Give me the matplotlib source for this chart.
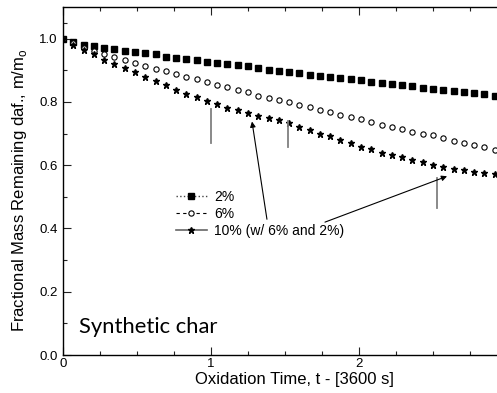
import matplotlib
matplotlib.use("Agg")
import matplotlib.pyplot as plt
from matplotlib.lines import Line2D
from matplotlib.ticker import FixedLocator
import numpy as np

# time in units of 3600 s, sampled every 250 s
time_h = np.arange(43) * 250 / 3600

mass_2 = [1.000, 0.990, 0.981, 0.977, 0.971, 0.967, 0.962, 0.959, 0.954, 0.950,
          0.943, 0.939, 0.936, 0.931, 0.927, 0.923, 0.920, 0.917, 0.913, 0.906,
          0.902, 0.898, 0.896, 0.892, 0.886, 0.881, 0.879, 0.876, 0.872, 0.868,
          0.864, 0.860, 0.858, 0.853, 0.849, 0.844, 0.842, 0.837, 0.834, 0.832,
          0.829, 0.826, 0.820]
mass_6 = [1.000, 0.985, 0.969, 0.962, 0.952, 0.943, 0.933, 0.923, 0.914, 0.905,
          0.897, 0.889, 0.878, 0.871, 0.863, 0.854, 0.846, 0.838, 0.830, 0.820,
          0.813, 0.807, 0.799, 0.790, 0.783, 0.775, 0.768, 0.759, 0.752, 0.745,
          0.736, 0.728, 0.720, 0.714, 0.704, 0.699, 0.694, 0.685, 0.677, 0.671,
          0.665, 0.657, 0.649]
mass_10 = [1.000, 0.980, 0.964, 0.950, 0.933, 0.920, 0.906, 0.894, 0.878, 0.865,
           0.853, 0.839, 0.826, 0.815, 0.802, 0.792, 0.781, 0.775, 0.766, 0.754,
           0.749, 0.743, 0.733, 0.722, 0.712, 0.699, 0.691, 0.680, 0.670, 0.659,
           0.650, 0.639, 0.631, 0.626, 0.617, 0.610, 0.601, 0.594, 0.589, 0.584,
           0.580, 0.576, 0.571]

labels = ["2%", "6%", "10% (w/ 6% and 2%)"]

# grey marker lines (x, y_low, y_high)
vlines_x = [1.00, 1.52, 2.53]
vlines_lo = [0.669, 0.656, 0.464]
vlines_hi = [0.779, 0.741, 0.560]

# arrows (tail -> head)
arrow_tail = [(1.378, 0.429), (1.77, 0.420)]
arrow_head = [(1.277, 0.738), (2.595, 0.565)]

plt.rcParams['font.family'] = ['Liberation Sans', 'DejaVu Sans']

fig = plt.figure(figsize=(4.97, 3.93), dpi=100)
ax = fig.add_axes([63/497, 38/393, 444/497, 348/393])

ax.plot(time_h, mass_2, linestyle='none', marker='s', ms=3.8, color='black')
ax.plot(time_h, mass_6, linestyle='none', marker='o', ms=3.8, mfc='white',
        mec='black', mew=0.8)
ax.plot(time_h, mass_10, linestyle='none', marker='*', ms=5.0, color='black')

for x, lo, hi in zip(vlines_x, vlines_lo, vlines_hi):
    ax.plot([x, x], [lo, hi], color='#808080', lw=1.3)

for t, h in zip(arrow_tail, arrow_head):
    ax.annotate('', xy=h, xytext=t,
                arrowprops=dict(arrowstyle='-|>', color='black', lw=0.8,
                                mutation_scale=8, shrinkA=0, shrinkB=0))

ax.set_xlim(0, 3.0)
ax.set_ylim(0, 1.1)
ax.set_xticks([0, 1, 2])
ax.xaxis.set_minor_locator(FixedLocator([0.25, 0.5, 0.75, 1.25, 1.5, 1.75,
                                         2.25, 2.5, 2.75]))
ax.set_yticks([0.0, 0.2, 0.4, 0.6, 0.8, 1.0])
ax.set_yticklabels(['0.0', '0.2', '0.4', '0.6', '0.8', '1.0'])
ax.yaxis.set_minor_locator(FixedLocator([0.1, 0.3, 0.5, 0.7, 0.9, 1.05]))
ax.tick_params(which='both', direction='in', top=True, right=False,
               labelsize=9.5, width=0.8, color='#222222')
ax.tick_params(which='major', length=5.5)
ax.tick_params(which='minor', length=3)
ax.tick_params(axis='x', pad=2)
ax.tick_params(axis='y', pad=4)
for s in ['left', 'bottom', 'top']:
    ax.spines[s].set_linewidth(1.0)
ax.spines['right'].set_visible(False)

ax.set_xlabel('Oxidation Time, t - [3600 s]', fontsize=12)
ax.xaxis.set_label_coords((294-63)/444, -0.05, transform=ax.transAxes)
ax.xaxis.label.set_va('top')
ax.set_ylabel(r'Fractional Mass Remaining daf., m/m$_\mathregular{o}$',
              fontsize=12)
ax.yaxis.set_label_coords(-0.077, (355-190)/348)

ax.text(0.108, 0.069, 'Synthetic char', fontsize=15.8,
        family=['Lato', 'DejaVu Sans'], ha='left', va='baseline')

handles = [
    Line2D([], [], color='#444444', ls=':', lw=1.0, marker='s', ms=3.8,
           mfc='black', mec='black'),
    Line2D([], [], color='black', ls=(0, (3, 3)), lw=0.8, marker='o', ms=3.8,
           mfc='white', mec='black', mew=0.8),
    Line2D([], [], color='#666666', ls='-', lw=1.2, marker='*', ms=5.0,
           mfc='black', mec='black'),
]
ax.legend(handles, labels, loc='upper left',
          bbox_to_anchor=((176-63)/444, (355-190)/348), frameon=False,
          fontsize=10, handlelength=2.2, handletextpad=0.55,
          labelspacing=0.2, borderpad=0, borderaxespad=0)

fig.savefig('out.png', dpi=100)
